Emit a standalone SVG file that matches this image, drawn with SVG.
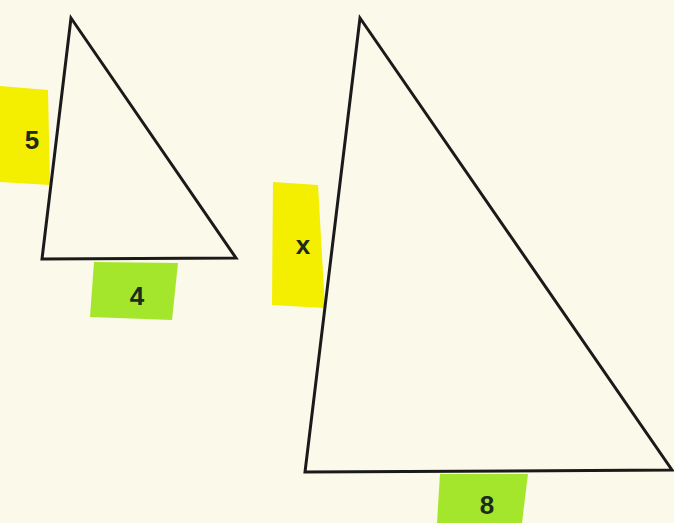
<svg xmlns="http://www.w3.org/2000/svg" width="674" height="523" viewBox="0 0 674 523">
<style>
.tri{fill:none;stroke:#1a1a1a;stroke-width:3;stroke-linejoin:miter}
.yel{fill:#f4ee00}
.grn{fill:#a4e62c}
.lbl{font-family:"Liberation Sans",Arial,sans-serif;font-weight:bold;font-size:26px;fill:#1e2a1e;text-anchor:middle}
</style>
<rect width="674" height="523" fill="#fbf9e9"/>
<g id="small-triangle">
<polygon class="yel" points="0,86 48,90 50,185 0,182"/>
<polygon class="grn" points="94,262 178,263 172,320 90,317"/>
<polygon class="tri" points="71,18 42,259 236,258"/>
<text class="lbl" x="32" y="149">5</text>
<text class="lbl" x="137" y="305">4</text>
</g>
<g id="large-triangle">
<polygon class="yel" points="273,182 318,185 325,308 272,305"/>
<polygon class="grn" points="440,474 528,474 522,523 437,523"/>
<polygon class="tri" points="360,18 305,472 672,470"/>
<text class="lbl" x="303" y="254" font-size="22">x</text>
<text class="lbl" x="487" y="514">8</text>
</g>
</svg>
